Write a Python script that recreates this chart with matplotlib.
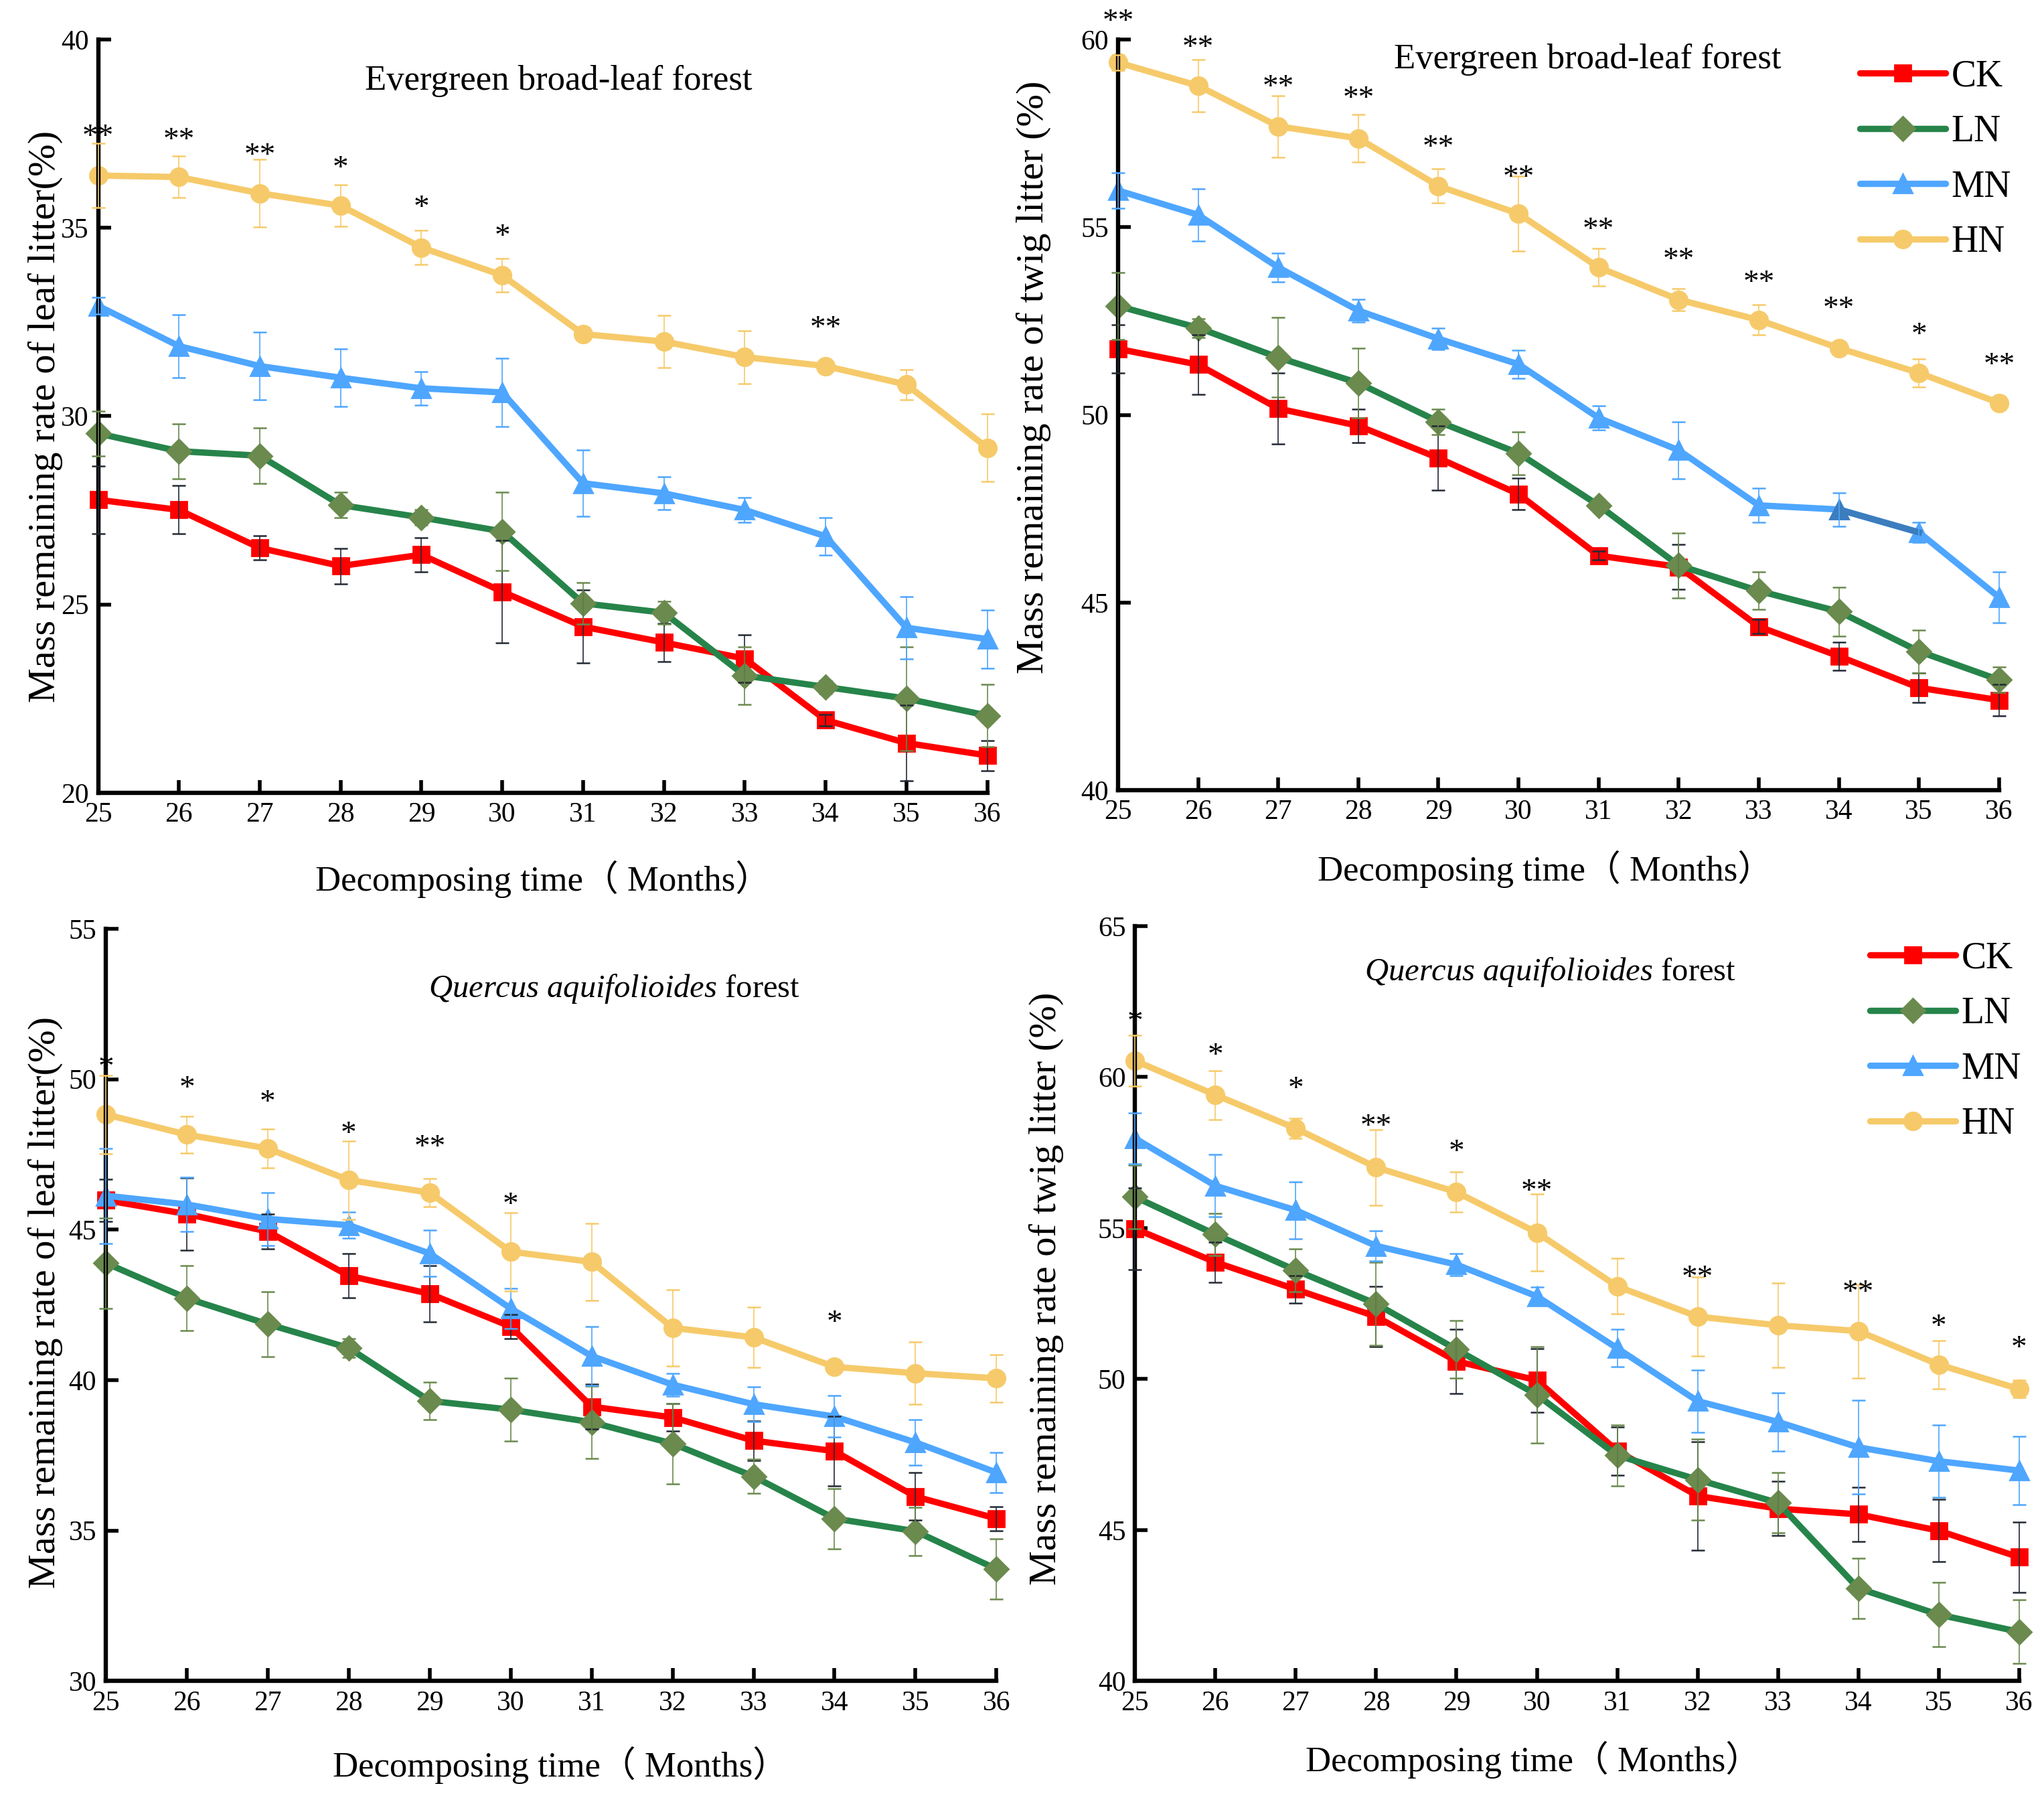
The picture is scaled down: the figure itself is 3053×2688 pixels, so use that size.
import numpy as np
import matplotlib
matplotlib.use("Agg")
import matplotlib.pyplot as plt

plt.rcParams['font.family'] = ['Liberation Serif', 'Noto Sans CJK SC']
plt.rcParams['mathtext.fontset'] = 'custom'
plt.rcParams['mathtext.rm'] = 'Liberation Serif'
plt.rcParams['mathtext.it'] = 'Liberation Serif:italic'

months = [25, 26, 27, 28, 29, 30, 31, 32, 33, 34, 35, 36]
series_names = ['CK', 'LN', 'MN', 'HN']

# Panel 1: leaf litter, evergreen broad-leaf forest
ck1 = [27.78, 27.51, 26.50, 26.02, 26.32, 25.34, 24.41, 23.99, 23.56, 21.93, 21.32, 20.99]
ck1_err = [0.9, 0.64, 0.32, 0.47, 0.45, 1.36, 0.97, 0.5, 0.63, 0.15, 1.0, 0.4]
ln1 = [29.54, 29.07, 28.95, 27.64, 27.31, 26.94, 25.03, 24.78, 23.11, 22.81, 22.50, 22.05]
ln1_err = [0.6, 0.73, 0.73, 0.34, 0.2, 1.04, 0.55, 0.3, 0.77, 0.18, 1.38, 0.83]
mn1 = [32.93, 31.86, 31.33, 31.02, 30.74, 30.63, 28.22, 27.95, 27.51, 26.81, 24.38, 24.08]
mn1_err = [0.22, 0.83, 0.9, 0.77, 0.45, 0.9, 0.88, 0.44, 0.33, 0.5, 0.82, 0.77]
hn1 = [36.39, 36.35, 35.92, 35.59, 34.48, 33.74, 32.18, 31.98, 31.57, 31.33, 30.84, 29.16]
hn1_err = [0.85, 0.55, 0.9, 0.55, 0.45, 0.45, 0.17, 0.7, 0.7, 0.1, 0.4, 0.9]
stars1_x = [25, 26, 27, 28, 29, 30, 34]
stars1_lab = ['**', '**', '**', '*', '*', '*', '**']
stars1_y = [37.4, 37.3, 36.9, 36.55, 35.5, 34.75, 32.3]

# Panel 2: twig litter, evergreen broad-leaf forest
ck2 = [51.76, 51.34, 50.17, 49.71, 48.85, 47.89, 46.25, 45.95, 44.36, 43.57, 42.73, 42.40]
ck2_err = [0.65, 0.8, 0.95, 0.45, 0.85, 0.42, 0.12, 0.6, 0.19, 0.38, 0.4, 0.42]
ln2 = [52.90, 52.32, 51.53, 50.85, 49.82, 48.98, 47.59, 45.99, 45.31, 44.76, 43.70, 42.94]
ln2_err = [0.9, 0.25, 1.06, 0.92, 0.34, 0.57, 0.15, 0.86, 0.5, 0.65, 0.57, 0.34]
mn2 = [55.98, 55.33, 53.93, 52.78, 52.03, 51.35, 49.92, 49.06, 47.59, 47.48, 46.87, 45.14]
mn2_err = [0.47, 0.7, 0.38, 0.3, 0.29, 0.38, 0.32, 0.76, 0.45, 0.45, 0.27, 0.68]
hn2 = [59.39, 58.77, 57.69, 57.37, 56.10, 55.36, 53.93, 53.07, 52.53, 51.78, 51.12, 50.32]
hn2_err = [0.2, 0.7, 0.82, 0.64, 0.45, 1.0, 0.5, 0.29, 0.4, 0.15, 0.38, 0.1]
stars2_x = [25, 26, 27, 28, 29, 30, 31, 32, 33, 34, 35, 36]
stars2_lab = ['**', '**', '**', '**', '**', '**', '**', '**', '**', '**', '*', '**']
stars2_y = [60.45, 59.76, 58.7, 58.4, 57.1, 56.3, 54.9, 54.1, 53.5, 52.8, 52.1, 51.3]

# Panel 3: leaf litter, Quercus aquifolioides forest
ck3 = [45.98, 45.52, 44.94, 43.47, 42.87, 41.78, 39.12, 38.76, 37.99, 37.64, 36.13, 35.40]
ck3_err = [0.7, 1.2, 0.57, 0.73, 0.93, 0.4, 0.75, 0.46, 0.65, 1.15, 0.79, 0.4]
ln3 = [43.89, 42.72, 41.86, 41.07, 39.31, 39.02, 38.60, 37.89, 36.80, 35.40, 34.98, 33.72]
ln3_err = [1.5, 1.08, 1.08, 0.31, 0.62, 1.05, 1.2, 1.34, 0.57, 1.0, 0.8, 1.0]
mn3 = [46.13, 45.84, 45.36, 45.15, 44.21, 42.38, 40.80, 39.85, 39.20, 38.79, 37.93, 36.93]
mn3_err = [1.58, 0.9, 0.88, 0.43, 0.77, 0.67, 0.98, 0.38, 0.57, 0.69, 0.76, 0.67]
hn3 = [48.83, 48.16, 47.70, 46.65, 46.23, 44.27, 43.93, 41.74, 41.42, 40.44, 40.23, 40.06]
hn3_err = [1.3, 0.61, 0.64, 1.3, 0.46, 1.3, 1.28, 1.27, 1.0, 0.2, 1.04, 0.79]
stars3_x = [25, 26, 27, 28, 29, 30, 34]
stars3_lab = ['*', '*', '*', '*', '**', '*', '*']
stars3_y = [50.35, 49.67, 49.2, 48.14, 47.7, 45.79, 41.88]

# Panel 4: twig litter, Quercus aquifolioides forest
ck4 = [54.98, 53.87, 52.97, 52.07, 50.59, 49.96, 47.62, 46.13, 45.71, 45.52, 44.98, 44.10]
ck4_err = [1.35, 0.67, 0.45, 1.0, 1.07, 1.05, 0.8, 1.8, 0.9, 0.9, 1.03, 1.17]
ln4 = [56.03, 54.79, 53.60, 52.49, 50.98, 49.48, 47.47, 46.67, 45.90, 43.07, 42.20, 41.63]
ln4_err = [1.05, 0.7, 0.7, 1.37, 0.96, 1.6, 1.0, 1.34, 1.0, 1.0, 1.07, 1.05]
mn4 = [57.97, 56.40, 55.59, 54.41, 53.79, 52.74, 51.02, 49.27, 48.58, 47.74, 47.28, 46.97]
mn4_err = [0.85, 1.03, 0.94, 0.5, 0.36, 0.3, 0.62, 1.03, 0.96, 1.55, 1.2, 1.13]
hn4 = [60.54, 59.41, 58.30, 57.01, 56.19, 54.85, 53.07, 52.07, 51.78, 51.59, 50.48, 49.67]
hn4_err = [0.85, 0.81, 0.33, 1.25, 0.66, 1.28, 0.92, 1.31, 1.4, 1.55, 0.8, 0.29]
stars4_x = [25, 26, 27, 28, 29, 30, 32, 34, 35, 36]
stars4_lab = ['*', '*', '*', '**', '*', '**', '**', '**', '*', '*']
stars4_y = [61.8, 60.69, 59.58, 58.33, 57.49, 56.19, 53.31, 52.84, 51.69, 50.98]

titles = ['Evergreen broad-leaf forest', 'Evergreen broad-leaf forest',
          r'$\mathit{Quercus\ aquifolioides}$ forest', r'$\mathit{Quercus\ aquifolioides}$ forest']
title_sizes = [19, 19, 17.5, 17.5]
ylabels = ['Mass remaining rate of leaf litter(%)', 'Mass remaining rate of twig litter (%)',
           'Mass remaining rate of leaf litter(%)', 'Mass remaining rate of twig litter (%)']
xlabel = 'Decomposing time（ Months）'

line_colors = ['#FF0000', '#26844A', '#4EA6FF', '#F6CA6A']
marker_colors = ['#FF0000', '#6A8A4E', '#4EA6FF', '#F6CA6A']
err_colors = ['#232A35', '#6A8A4E', '#4EA6FF', '#F6CA6A']
markers = ['s', 'D', '^', 'o']
msizes = [8.5, 9.0, 10.0, 9.5]

fig = plt.figure(figsize=(3053 / 200, 2688 / 200), dpi=200)

boxes = [
    [0.048, 0.5596, 0.435, 0.4184],
    [0.547, 0.561, 0.431, 0.417],
    [0.0518, 0.0661, 0.4357, 0.4179],
    [0.5553, 0.0661, 0.4325, 0.4194],
]
ylims = [(20, 40), (40, 60), (30, 55), (40, 65)]
title_pos = [(30.7, 38.9), (30.86, 59.46), (31.28, 53.0), (30.17, 63.48)]
ylabel_pos = [(-0.059, 0.5), (-0.096, 0.55), (-0.068, 0.503), (-0.10, 0.52)]
xlabel_pos = [(0.5, -0.115), (0.485, -0.105), (0.51, -0.112), (0.45, -0.104)]

panels = [
    ([ck1, ln1, mn1, hn1], [ck1_err, ln1_err, mn1_err, hn1_err], stars1_x, stars1_lab, stars1_y),
    ([ck2, ln2, mn2, hn2], [ck2_err, ln2_err, mn2_err, hn2_err], stars2_x, stars2_lab, stars2_y),
    ([ck3, ln3, mn3, hn3], [ck3_err, ln3_err, mn3_err, hn3_err], stars3_x, stars3_lab, stars3_y),
    ([ck4, ln4, mn4, hn4], [ck4_err, ln4_err, mn4_err, hn4_err], stars4_x, stars4_lab, stars4_y),
]

for i, (vals, errs, sx, slab, sy) in enumerate(panels):
    ax = fig.add_axes(boxes[i])
    handles = []
    for j in range(4):
        h, = ax.plot(months, vals[j], color=line_colors[j], lw=3.4, marker=markers[j],
                     ms=msizes[j], mfc=marker_colors[j], mec=marker_colors[j],
                     solid_capstyle='round', zorder=2, clip_on=False, label=series_names[j])
        handles.append(h)
    if i == 1:
        # darker segment of MN from month 34 to 35
        ax.plot(months[9:11], mn2[9:11], color='#3C7DBE', lw=3.4, zorder=2.1, clip_on=False)
        ax.plot(months[9:10], mn2[9:10], color='#3C7DBE', marker='^', ms=msizes[2], lw=0,
                zorder=2.2, clip_on=False)
    for j in range(4):
        ax.errorbar(months, vals[j], yerr=errs[j], fmt='none', ecolor=err_colors[j],
                    elinewidth=0.6, capsize=3.5, capthick=0.9, zorder=3, clip_on=False)
    for x, lab, y in zip(sx, slab, sy):
        ax.text(x, y, lab, ha='center', va='center', fontsize=17, color='black', zorder=4)
    ax.text(title_pos[i][0], title_pos[i][1], titles[i], ha='center', va='center',
            fontsize=title_sizes[i])
    ax.set_xlim(25, 36)
    ax.set_ylim(*ylims[i])
    ax.set_xticks(months)
    ax.set_yticks(np.arange(ylims[i][0], ylims[i][1] + 0.1, 5))
    ax.tick_params(direction='in', length=7, width=2.0, labelsize=15, pad=5)
    for sp in ['top', 'right']:
        ax.spines[sp].set_visible(False)
    for sp in ['left', 'bottom']:
        ax.spines[sp].set_linewidth(2.3)
    ax.set_ylabel(ylabels[i], fontsize=21, va='center')
    ax.yaxis.set_label_coords(*ylabel_pos[i])
    ax.set_xlabel(xlabel, fontsize=19, va='center')
    ax.xaxis.set_label_coords(*xlabel_pos[i])
    if i in (1, 3):
        anchor = (0.910, 0.967) if i == 1 else (0.915, 0.477)
        fig.legend(handles=handles, loc='upper left', bbox_to_anchor=anchor,
                   frameon=False, fontsize=20, handlelength=2.3, handletextpad=0.15,
                   labelspacing=0.55, borderpad=0, borderaxespad=0)

fig.savefig('out.png', dpi=200)
